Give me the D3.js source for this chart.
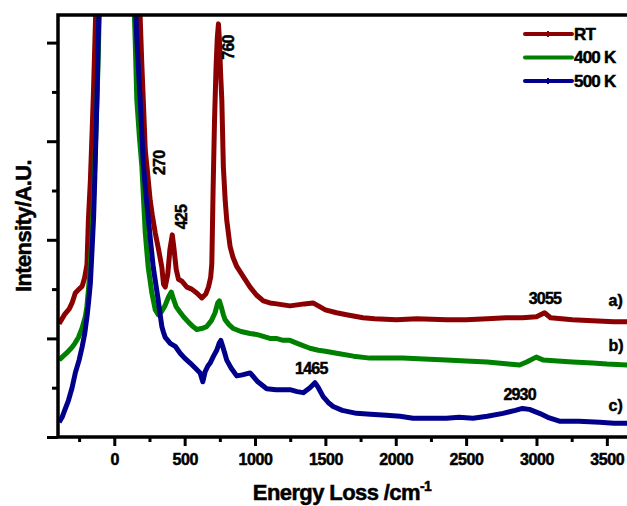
<!DOCTYPE html>
<html>
<head>
<meta charset="utf-8">
<script src="https://cdn.jsdelivr.net/npm/d3@7"></script>
<style>
  body { margin: 0; background: #fff; }
  text { font-family: "Liberation Sans", Arial, sans-serif; font-weight: bold; fill: #000; stroke: #000; stroke-width: 0.5px; }
</style>
</head>
<body>
<div id="chart"></div>
<script>
// series: [energy loss (cm-1), intensity (a.u.)]
const rtPoints = [
	[-392,1.15],[-375,1.19],[-350,1.25],[-320,1.30],[-300,1.36],[-277,1.46],[-250,1.50],[-228,1.53],[-210,1.62],
	[-194,1.75],[-184,2.2],[-170,2.6],[-158,3.08],[-148,3.5],[-140,3.9],[-130,4.4],[0,20],[175,4.5],[184,4.25],
	[195,3.8],[206,3.42],[220,2.91],[235,2.7],[255,2.4],[270,2.25],[291,2.07],[315,1.9],[338,1.72],[350,1.55],
	[362,1.52],[380,1.65],[395,1.9],[412,2.05],[425,1.9],[440,1.7],[456,1.6],[480,1.58],[516,1.52],[550,1.50],
	[586,1.46],[622,1.41],[650,1.45],[669,1.52],[685,1.62],[693,1.76],[702,2.5],[712,3.2],[723,3.75],[732,4.05],
	[740,4.19],[748,4.0],[755,3.7],[764,3.42],[775,2.74],[788,2.4],[799,2.2],[823,1.93],[844,1.82],[870,1.73],
	[920,1.62],[965,1.52],[1010,1.44],[1059,1.38],[1106,1.36],[1154,1.35],[1200,1.34],[1248,1.33],[1300,1.34],
	[1350,1.35],[1412,1.36],[1450,1.33],[1500,1.29],[1579,1.26],[1650,1.24],[1767,1.21],[1850,1.20],[2005,1.19],
	[2150,1.20],[2360,1.19],[2500,1.19],[2650,1.20],[2785,1.21],[2900,1.21],[3000,1.22],[3057,1.26],[3100,1.21],
	[3256,1.19],[3400,1.18],[3550,1.17],[3650,1.17]
];
const k400Points = [
	[-392,0.78],[-371,0.81],[-340,0.85],[-300,0.91],[-280,0.95],[-255,1.01],[-230,1.10],[-206,1.22],[-195,1.32],
	[-184,1.49],[-170,1.75],[-158,2.07],[-145,2.5],[-135,2.91],[-125,3.35],[-116,3.75],[-105,4.4],[0,20],[140,4.4],
	[149,4.0],[160,3.42],[178,3.05],[196,2.74],[210,2.35],[220,2.07],[241,1.72],[255,1.58],[267,1.46],[291,1.29],
	[312,1.24],[335,1.27],[360,1.33],[385,1.42],[405,1.47],[420,1.40],[440,1.32],[465,1.27],[492,1.22],[530,1.16],
	[560,1.12],[586,1.09],[620,1.10],[657,1.12],[690,1.18],[716,1.26],[735,1.36],[747,1.38],[760,1.32],[775,1.24],
	[787,1.19],[815,1.14],[846,1.10],[900,1.07],[965,1.05],[1010,1.04],[1059,1.02],[1106,1.00],[1150,1.00],
	[1200,0.98],[1248,0.98],[1300,0.95],[1390,0.90],[1450,0.88],[1500,0.87],[1579,0.85],[1700,0.82],[1816,0.80],
	[1950,0.80],[2050,0.80],[2200,0.79],[2360,0.78],[2500,0.77],[2650,0.76],[2800,0.74],[2880,0.73],[2930,0.76],
	[2998,0.81],[3050,0.78],[3150,0.77],[3256,0.76],[3400,0.75],[3500,0.74],[3650,0.73]
];
const k500Points = [
	[-392,0.15],[-371,0.20],[-350,0.28],[-326,0.37],[-300,0.50],[-277,0.65],[-250,0.78],[-229,0.91],[-210,1.05],
	[-194,1.22],[-182,1.38],[-170,1.56],[-158,1.9],[-147,2.23],[-138,2.65],[-130,3.08],[-122,3.5],[-116,3.92],
	[-108,4.4],[0,20],[150,4.4],[161,4.0],[173,3.7],[184,3.42],[195,3.1],[206,2.78],[222,2.5],[241,2.23],[258,1.98],
	[277,1.72],[295,1.55],[312,1.39],[325,1.25],[338,1.12],[350,1.06],[362,1.01],[380,0.98],[397,0.95],[433,0.92],
	[468,0.85],[500,0.80],[539,0.75],[575,0.70],[610,0.65],[629,0.56],[645,0.66],[665,0.72],[681,0.75],[705,0.82],
	[728,0.88],[745,0.95],[757,0.98],[770,0.92],[785,0.85],[799,0.78],[830,0.70],[870,0.62],[910,0.63],[965,0.65],
	[1020,0.56],[1083,0.49],[1150,0.48],[1201,0.48],[1248,0.48],[1300,0.46],[1343,0.45],[1390,0.50],[1426,0.55],
	[1450,0.50],[1484,0.41],[1520,0.35],[1555,0.31],[1620,0.27],[1721,0.24],[1820,0.23],[1934,0.22],[2030,0.21],
	[2123,0.19],[2250,0.19],[2360,0.19],[2450,0.20],[2549,0.19],[2650,0.21],[2762,0.24],[2850,0.27],[2900,0.29],
	[2950,0.28],[3021,0.24],[3080,0.20],[3163,0.16],[3300,0.16],[3450,0.15],[3550,0.14],[3650,0.14]
];

const seriesNames = ["RT", "400 K", "500 K"];
const seriesColors = ["#8b0000", "#008000", "#00008b"];
const xMajorTicks = [0, 500, 1000, 1500, 2000, 2500, 3000, 3500];
const xMinorTicks = [-250, 250, 750, 1250, 1750, 2250, 2750, 3250];
const yMajorTicks = [0, 1, 2, 3, 4];
const yMinorTicks = [0.5, 1.5, 2.5, 3.5];

// peak labels: [text, energy, intensity, rotated]
const peakLabels = [
	["760", 815, 3.95, true],
	["270", 320, 2.78, true],
	["425", 480, 2.23, true],
	["1465", 1400, 0.69, false],
	["2930", 2880, 0.43, false],
	["3055", 3060, 1.40, false]
];
const curveTags = ["a)", "b)", "c)"];
const curveTagLevels = [1.38, 0.93, 0.32];

const margin = {top: 15, left: 58},
	  width = 577,
	  height = 422;

const svg = d3.select("#chart")
	.append("svg")
	.attr("width", 627)
	.attr("height", 506);

const g = svg.append("g")
	.attr("transform", "translate(" + margin.left + "," + margin.top + ")");

let xScale = d3.scaleLinear()
	.domain([-400, 3700])
	.range([0, width]);
let yScale = d3.scaleLinear()
	.domain([0, 4.28])
	.range([height, 0]);

g.append("clipPath")
	.attr("id", "plotClip")
	.append("rect")
	.attr("x", 0).attr("y", 0)
	.attr("width", width).attr("height", height);

// curves
const line = d3.line()
	.x(d => xScale(d[0]))
	.y(d => yScale(d[1]));

[rtPoints, k400Points, k500Points].forEach((pts, i) => {
	g.append("path")
		.attr("d", line(pts))
		.attr("clip-path", "url(#plotClip)")
		.attr("fill", "none")
		.attr("stroke", seriesColors[i])
		.attr("stroke-width", 5)
		.attr("stroke-linejoin", "round");
});

// axes
function styleAxis(sel) {
	sel.select(".domain").remove();
	sel.selectAll(".tick line").attr("stroke", "#000").attr("stroke-width", 3);
	sel.selectAll(".tick text")
		.style("font-size", "16px")
		.style("letter-spacing", "-0.4px");
}

g.append("g")
	.attr("transform", "translate(0," + height + ")")
	.call(d3.axisBottom(xScale).tickValues(xMajorTicks).tickSize(9).tickPadding(8).tickFormat(d3.format("d")))
	.call(styleAxis);
g.append("g")
	.attr("transform", "translate(0," + height + ")")
	.call(d3.axisBottom(xScale).tickValues(xMinorTicks).tickSize(5).tickFormat(""))
	.call(styleAxis);
g.append("g")
	.call(d3.axisLeft(yScale).tickValues(yMajorTicks).tickSize(11).tickFormat(""))
	.call(styleAxis);
g.append("g")
	.call(d3.axisLeft(yScale).tickValues(yMinorTicks).tickSize(6).tickFormat(""))
	.call(styleAxis);

// frame: left, bottom, top
g.append("path")
	.attr("d", "M" + (width + 10) + ",0H0V" + height + "H" + (width + 10))
	.attr("fill", "none")
	.attr("stroke", "#000")
	.attr("stroke-width", 3.5);

// peak labels
peakLabels.forEach(p => {
	const t = g.append("text")
		.attr("text-anchor", "middle")
		.attr("dominant-baseline", "central")
		.style("font-size", "16px")
		.style("letter-spacing", "-0.8px")
		.text(p[0]);
	if (p[3]) t.attr("transform", "translate(" + xScale(p[1]) + "," + yScale(p[2]) + ") rotate(-90)");
	else t.attr("x", xScale(p[1])).attr("y", yScale(p[2]));
});

curveTags.forEach((c, i) => {
	g.append("text")
		.attr("x", xScale(3512))
		.attr("y", yScale(curveTagLevels[i]))
		.attr("dominant-baseline", "central")
		.style("font-size", "16px")
		.text(c);
});

// legend
const legend = g.append("g").attr("transform", "translate(" + (525 - margin.left) + "," + (34 - margin.top) + ")");
seriesNames.forEach((name, i) => {
	const row = legend.append("g").attr("transform", "translate(0," + i * 23.5 + ")");
	row.append("line")
		.attr("x1", 0).attr("x2", 47)
		.attr("stroke", seriesColors[i])
		.attr("stroke-width", 4)
		.attr("stroke-linecap", "round");
	if (i !== 1) {
		row.append("line")
			.attr("x1", 23).attr("x2", 23).attr("y1", -3).attr("y2", 3)
			.attr("stroke", seriesColors[i])
			.attr("stroke-width", 2);
	}
	row.append("text")
		.attr("x", 49)
		.attr("dominant-baseline", "central")
		.style("font-size", "17px")
		.style("letter-spacing", "-0.8px")
		.text(name);
});

// axis titles
const xTitle = svg.append("text")
	.attr("x", 342)
	.attr("y", 500)
	.attr("text-anchor", "middle")
	.style("font-size", "22px")
	.style("letter-spacing", "-0.6px");
xTitle.append("tspan").text("Energy Loss /cm");
xTitle.append("tspan").attr("dy", -9).style("font-size", "14px").text("-1");

svg.append("text")
	.attr("transform", "translate(23,226) rotate(-90)")
	.attr("text-anchor", "middle")
	.attr("dominant-baseline", "central")
	.style("font-size", "22px")
	.style("letter-spacing", "-0.6px")
	.text("Intensity/A.U.");
</script>
</body>
</html>
